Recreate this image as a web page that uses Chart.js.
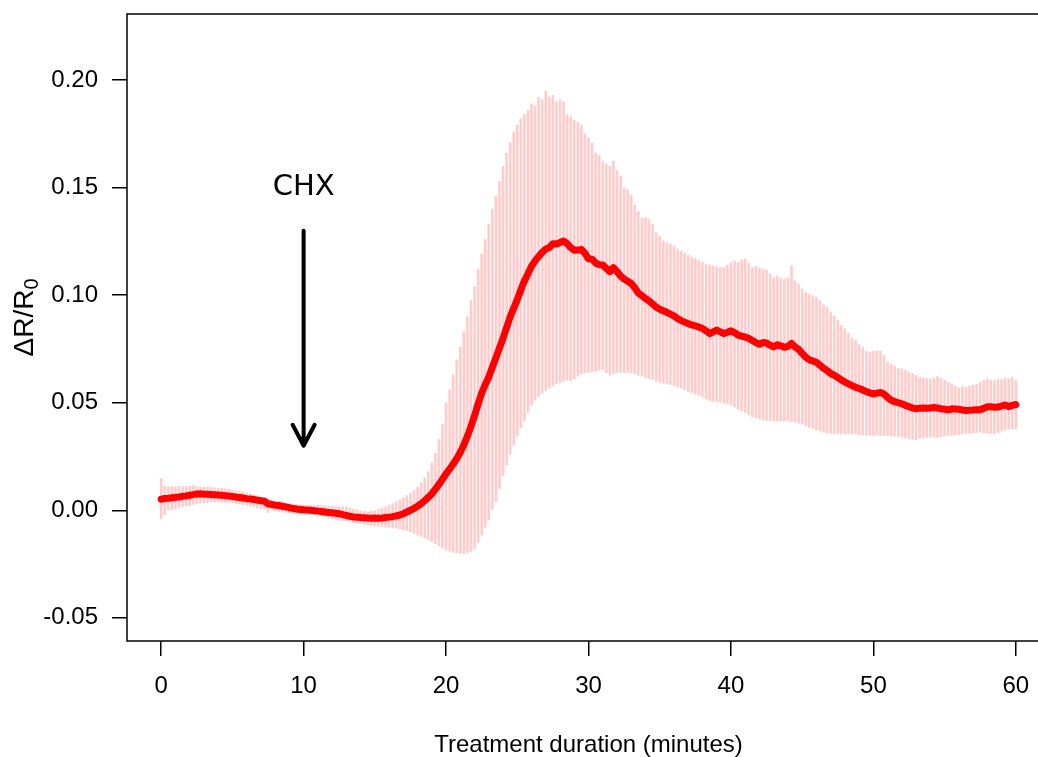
<!DOCTYPE html>
<html>
<head>
<meta charset="utf-8">
<script src="https://cdn.jsdelivr.net/npm/chart.js@4.4.1/dist/chart.umd.min.js"></script>
<style>
  html, body { margin: 0; padding: 0; background: #fff; overflow: hidden; }
  canvas { display: block; }
</style>
</head>
<body>
<canvas id="myChart" width="1052" height="757"></canvas>
<script>
// one sample every quarter minute, 0 .. 60 min
const sampleStep = 0.25;

const meanResponse = [
  0.0052, 0.0055, 0.0056, 0.0058,  0.0060, 0.0062, 0.0065, 0.0067,
  0.0070, 0.0073, 0.0076, 0.0077,  0.0075, 0.0074, 0.0073, 0.0072,
  0.0071, 0.0070, 0.0068, 0.0066,  0.0064, 0.0062, 0.0059, 0.0057,
  0.0054, 0.0053, 0.0050, 0.0047,  0.0044, 0.0042, 0.0030, 0.0027,
  0.0024, 0.0022, 0.0019, 0.0016,  0.0012, 0.0009, 0.0006, 0.0004,
  0.0002, 0.0001, 0.0000, -0.0002, -0.0004, -0.0006, -0.0008, -0.0010,
  -0.0012, -0.0014, -0.0016, -0.0020, -0.0024, -0.0028, -0.0031, -0.0032,
  -0.0034, -0.0035, -0.0036, -0.0037, -0.0036, -0.0037, -0.0036, -0.0034,
  -0.0032, -0.0030, -0.0026, -0.0022, -0.0016, -0.0008, 0.0000, 0.0009,
  0.0019, 0.0031, 0.0045, 0.0060,  0.0077, 0.0098, 0.0120, 0.0145,
  0.0170, 0.0192, 0.0215, 0.0240,  0.0270, 0.0305, 0.0345, 0.0390,
  0.0440, 0.0495, 0.0545, 0.0585,  0.0620, 0.0665, 0.0710, 0.0755,
  0.0800, 0.0850, 0.0900, 0.0940,  0.0980, 0.1025, 0.1067, 0.1100,
  0.1135, 0.1160, 0.1180, 0.1200,  0.1215, 0.1222, 0.1240, 0.1238,
  0.1245, 0.1252, 0.1240, 0.1222,  0.1209, 0.1210, 0.1213, 0.1195,
  0.1170, 0.1168, 0.1150, 0.1142,  0.1141, 0.1125, 0.1110, 0.1128,
  0.1110, 0.1090, 0.1075, 0.1065,  0.1055, 0.1035, 0.1010, 0.0998,
  0.0985, 0.0974, 0.0960, 0.0945,  0.0935, 0.0928, 0.0920, 0.0912,
  0.0904, 0.0892, 0.0882, 0.0875,  0.0868, 0.0862, 0.0858, 0.0852,
  0.0845, 0.0835, 0.0822, 0.0830,  0.0838, 0.0830, 0.0822, 0.0828,
  0.0835, 0.0826, 0.0815, 0.0810,  0.0805, 0.0800, 0.0790, 0.0780,
  0.0772, 0.0780, 0.0778, 0.0768,  0.0760, 0.0770, 0.0765, 0.0758,
  0.0762, 0.0776, 0.0760, 0.0748,  0.0730, 0.0712, 0.0700, 0.0694,
  0.0688, 0.0675, 0.0660, 0.0650,  0.0636, 0.0628, 0.0618, 0.0606,
  0.0596, 0.0588, 0.0580, 0.0572,  0.0566, 0.0560, 0.0552, 0.0546,
  0.0541, 0.0545, 0.0548, 0.0540,  0.0525, 0.0512, 0.0505, 0.0500,
  0.0495, 0.0488, 0.0482, 0.0476,  0.0472, 0.0475, 0.0476, 0.0474,
  0.0476, 0.0478, 0.0476, 0.0472,  0.0470, 0.0467, 0.0472, 0.0471,
  0.0470, 0.0466, 0.0464, 0.0465,  0.0466, 0.0468, 0.0468, 0.0474,
  0.0482, 0.0481, 0.0479, 0.0480,  0.0485, 0.0490, 0.0482, 0.0488,
  0.0492
];

const upperBar = [
  0.0147, 0.0112, 0.0108, 0.0110,  0.0108, 0.0112, 0.0109, 0.0111,
  0.0111, 0.0113, 0.0110, 0.0109,  0.0108, 0.0107, 0.0106, 0.0104,
  0.0103, 0.0102, 0.0100, 0.0097,  0.0094, 0.0091, 0.0088, 0.0084,
  0.0080, 0.0076, 0.0072, 0.0068,  0.0064, 0.0060, 0.0055, 0.0050,
  0.0045, 0.0041, 0.0038, 0.0034,  0.0031, 0.0029, 0.0027, 0.0026,
  0.0025, 0.0024, 0.0024, 0.0023,  0.0023, 0.0022, 0.0021, 0.0019,
  0.0018, 0.0017, 0.0016, 0.0015,  0.0015, 0.0010, 0.0005, 0.0001,
  -0.0002, -0.0005, -0.0008, -0.0004, 0.0000, 0.0004, 0.0008, 0.0015,
  0.0022, 0.0030, 0.0039, 0.0048,  0.0058, 0.0068, 0.0078, 0.0092,
  0.0108, 0.0128, 0.0150, 0.0180,  0.0220, 0.0265, 0.0330, 0.0400,
  0.0500, 0.0560, 0.0630, 0.0700,  0.0760, 0.0830, 0.0900, 0.0975,
  0.1040, 0.1120, 0.1190, 0.1260,  0.1330, 0.1400, 0.1460, 0.1530,
  0.1600, 0.1660, 0.1710, 0.1760,  0.1790, 0.1820, 0.1840, 0.1860,
  0.1890, 0.1880, 0.1920, 0.1910,  0.1950, 0.1920, 0.1930, 0.1900,
  0.1910, 0.1900, 0.1840, 0.1830,  0.1815, 0.1805, 0.1790, 0.1750,
  0.1730, 0.1708, 0.1660, 0.1650,  0.1623, 0.1610, 0.1600, 0.1623,
  0.1580, 0.1554, 0.1500, 0.1490,  0.1465, 0.1420, 0.1390, 0.1360,
  0.1360, 0.1353, 0.1330, 0.1290,  0.1275, 0.1252, 0.1245, 0.1238,
  0.1229, 0.1215, 0.1205, 0.1195,  0.1185, 0.1178, 0.1170, 0.1162,
  0.1152, 0.1145, 0.1140, 0.1136,  0.1132, 0.1129, 0.1129, 0.1140,
  0.1152, 0.1160, 0.1152, 0.1165,  0.1167, 0.1150, 0.1129, 0.1135,
  0.1125, 0.1121, 0.1118, 0.1100,  0.1082, 0.1090, 0.1078, 0.1075,
  0.1080, 0.1136, 0.1067, 0.1050,  0.1030, 0.1013, 0.1005, 0.0998,
  0.0990, 0.0975, 0.0955, 0.0943,  0.0920, 0.0904, 0.0885, 0.0860,
  0.0843, 0.0825, 0.0800, 0.0789,  0.0770, 0.0757, 0.0740, 0.0734,
  0.0740, 0.0742, 0.0742, 0.0720,  0.0690, 0.0680, 0.0670, 0.0660,
  0.0657, 0.0650, 0.0641, 0.0635,  0.0628, 0.0618, 0.0615, 0.0612,
  0.0611, 0.0615, 0.0622, 0.0612,  0.0605, 0.0595, 0.0588, 0.0578,
  0.0569, 0.0575, 0.0572, 0.0578,  0.0582, 0.0587, 0.0595, 0.0605,
  0.0611, 0.0605, 0.0603, 0.0610,  0.0608, 0.0615, 0.0612, 0.0618,
  0.0603
];

const lowerBar = [
  -0.0039, -0.0020, 0.0000, 0.0004, 0.0008, 0.0012, 0.0016, 0.0020,
  0.0023, 0.0027, 0.0030, 0.0033,  0.0035, 0.0037, 0.0038, 0.0039,
  0.0039, 0.0038, 0.0038, 0.0036,  0.0034, 0.0031, 0.0029, 0.0026,
  0.0023, 0.0019, 0.0016, 0.0012,  0.0008, 0.0004, -0.0010, 0.0000,
  -0.0003, -0.0006, -0.0008, -0.0010, -0.0012, -0.0014, -0.0015, -0.0017,
  -0.0018, -0.0019, -0.0020, -0.0021, -0.0022, -0.0026, -0.0030, -0.0036,
  -0.0040, -0.0043, -0.0045, -0.0048, -0.0050, -0.0054, -0.0058, -0.0062,
  -0.0064, -0.0066, -0.0068, -0.0071, -0.0073, -0.0074, -0.0075, -0.0078,
  -0.0080, -0.0082, -0.0083, -0.0087, -0.0090, -0.0095, -0.0100, -0.0108,
  -0.0115, -0.0121, -0.0128, -0.0136, -0.0145, -0.0155, -0.0165, -0.0175,
  -0.0185, -0.0190, -0.0195, -0.0198, -0.0200, -0.0202, -0.0198, -0.0190,
  -0.0180, -0.0150, -0.0115, -0.0080, -0.0045, 0.0000, 0.0040, 0.0100,
  0.0160, 0.0210, 0.0260, 0.0305,  0.0345, 0.0385, 0.0417, 0.0455,
  0.0490, 0.0512, 0.0530, 0.0545,  0.0557, 0.0568, 0.0580, 0.0588,
  0.0595, 0.0600, 0.0605, 0.0603,  0.0610, 0.0625, 0.0635, 0.0641,
  0.0641, 0.0643, 0.0645, 0.0650,  0.0655, 0.0640, 0.0628, 0.0636,
  0.0640, 0.0641, 0.0640, 0.0642,  0.0640, 0.0635, 0.0628, 0.0624,
  0.0618, 0.0612, 0.0608, 0.0600,  0.0595, 0.0592, 0.0590, 0.0585,
  0.0580, 0.0575, 0.0570, 0.0560,  0.0552, 0.0546, 0.0540, 0.0534,
  0.0528, 0.0519, 0.0510, 0.0507,  0.0505, 0.0502, 0.0498, 0.0495,
  0.0490, 0.0480, 0.0470, 0.0462,  0.0455, 0.0445, 0.0435, 0.0430,
  0.0425, 0.0420, 0.0418, 0.0417,  0.0417, 0.0415, 0.0417, 0.0416,
  0.0415, 0.0412, 0.0410, 0.0405,  0.0400, 0.0393, 0.0386, 0.0380,
  0.0375, 0.0369, 0.0363, 0.0360,  0.0358, 0.0356, 0.0356, 0.0355,
  0.0356, 0.0355, 0.0356, 0.0354,  0.0352, 0.0350, 0.0348, 0.0348,
  0.0348, 0.0349, 0.0347, 0.0348,  0.0348, 0.0346, 0.0344, 0.0342,
  0.0340, 0.0336, 0.0332, 0.0330,  0.0328, 0.0334, 0.0338, 0.0340,
  0.0340, 0.0341, 0.0340, 0.0342,  0.0345, 0.0348, 0.0348, 0.0350,
  0.0352, 0.0354, 0.0356, 0.0358,  0.0360, 0.0362, 0.0363, 0.0360,
  0.0358, 0.0357, 0.0356, 0.0362,  0.0370, 0.0375, 0.0379, 0.0378,
  0.0379
];

const xTicks = [0, 10, 20, 30, 40, 50, 60];
const yTicks = [-0.05, 0, 0.05, 0.10, 0.15, 0.20];

// R style limits (xlim 0..60, ylim -0.05..0.22, plus 4%)
const xLimits = [-2.4, 62.4];
const yLimits = [-0.0608, 0.2308];

const markerLabel = 'CHX';
const markerTime = 10;
const markerLabelY = 0.15;
const arrowFrom = 0.13;
const arrowTo = 0.03;

// y label is ΔR/R with a subscript 0
const yLabelMain = 'ΔR/R';
const yLabelSub = '0';

const times = meanResponse.map((_, i) => i * sampleStep);

const fontFamily = '"Liberation Sans", Arial, sans-serif';
const font = { family: fontFamily, size: 24 };

// box around the plot, y label with subscript, the CHX arrow
const framePlugin = {
    id: 'frame',
    afterDraw(chart) {
        const { ctx, chartArea: a, scales: { x, y } } = chart;
        ctx.save();
        ctx.strokeStyle = '#000';
        ctx.lineWidth = 1.5;
        ctx.strokeRect(a.left, a.top, a.right - a.left, a.bottom - a.top);

        // rotated y label
        ctx.save();
        ctx.fillStyle = '#000';
        ctx.textBaseline = 'alphabetic';
        ctx.textAlign = 'left';
        const mainFont = '28px ' + fontFamily;
        const subFont = '20px ' + fontFamily;
        ctx.font = mainFont;
        const wMain = ctx.measureText(yLabelMain).width;
        ctx.font = subFont;
        const wSub = ctx.measureText(yLabelSub).width;
        ctx.translate(33, (a.top + a.bottom) / 2 - 10);
        ctx.rotate(-Math.PI / 2);
        const start = -(wMain + wSub) / 2;
        ctx.font = mainFont;
        ctx.fillText(yLabelMain, start, 0);
        ctx.font = subFont;
        ctx.fillText(yLabelSub, start + wMain, 5);
        ctx.restore();

        const px = x.getPixelForValue(markerTime);
        ctx.fillStyle = '#000';
        ctx.font = '29px "DejaVu Sans", sans-serif';
        ctx.textAlign = 'center';
        ctx.textBaseline = 'middle';
        ctx.fillText(markerLabel, px, y.getPixelForValue(markerLabelY));

        const y0 = y.getPixelForValue(arrowFrom);
        const y1 = y.getPixelForValue(arrowTo);
        ctx.lineWidth = 4;
        ctx.lineCap = 'round';
        ctx.lineJoin = 'round';
        ctx.beginPath();
        ctx.moveTo(px, y0);
        ctx.lineTo(px, y1);
        ctx.moveTo(px - 11, y1 - 21);
        ctx.lineTo(px, y1);
        ctx.lineTo(px + 11, y1 - 21);
        ctx.stroke();
        ctx.restore();
    }
};

var ctx = document.getElementById('myChart');
new Chart(ctx, {
    type: 'bar',
    data: {
        datasets: [
            {
                type: 'line',
                data: times.map((t, i) => ({ x: t, y: meanResponse[i] })),
                borderColor: '#ff0000',
                borderWidth: 7,
                pointRadius: 0,
                tension: 0,
                borderJoinStyle: 'round',
                borderCapStyle: 'round',
                order: 1
            },
            {
                type: 'bar',
                data: times.map((t, i) => ({ x: t, y: [lowerBar[i], upperBar[i]] })),
                backgroundColor: '#ffcccc',
                borderWidth: 0,
                barThickness: 2,
                order: 2
            }
        ]
    },
    options: {
        responsive: false,
        animation: false,
        devicePixelRatio: 1,
        layout: { padding: { top: 14, right: 2, bottom: 0, left: 0 } },
        plugins: {
            legend: { display: false },
            tooltip: { enabled: false }
        },
        scales: {
            x: {
                type: 'linear',
                min: xLimits[0],
                max: xLimits[1],
                offset: false,
                grid: { drawOnChartArea: false, drawTicks: true, tickLength: 15, color: '#000', lineWidth: 1.5, offset: false },
                border: { display: false },
                ticks: { color: '#000', font: font, padding: 16, maxRotation: 0 },
                title: {
                    display: true,
                    text: 'Treatment duration (minutes)',
                    color: '#000',
                    font: { family: fontFamily, size: 24, lineHeight: 1 },
                    padding: { top: 0, bottom: 0 }
                },
                afterBuildTicks: s => { s.ticks = xTicks.map(v => ({ value: v })); },
                afterFit: s => { s.height = 116; s.paddingLeft = 0; s.paddingRight = 0; }
            },
            y: {
                min: yLimits[0],
                max: yLimits[1],
                grid: { drawOnChartArea: false, drawTicks: true, tickLength: 15, color: '#000', lineWidth: 1.5 },
                border: { display: false },
                ticks: { color: '#000', font: font, padding: 14, callback: v => v.toFixed(2) },
                afterBuildTicks: s => { s.ticks = yTicks.map(v => ({ value: v })); },
                afterFit: s => { s.width = 127; s.paddingTop = 0; s.paddingBottom = 0; }
            }
        }
    },
    plugins: [framePlugin]
});
</script>
</body>
</html>
